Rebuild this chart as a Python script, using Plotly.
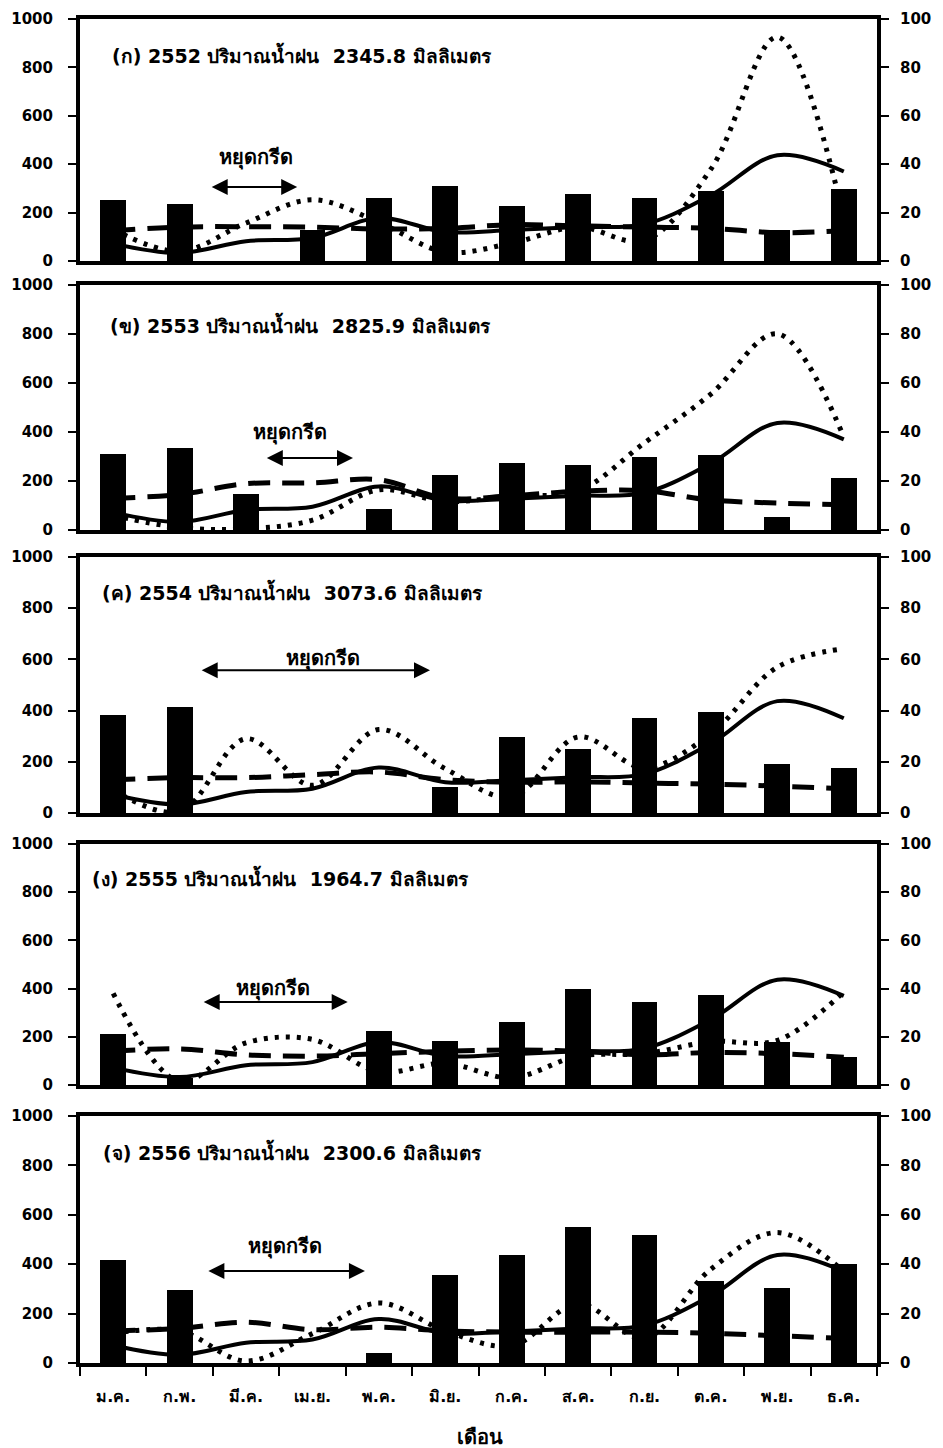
import plotly.graph_objects as go

W, H = 943, 1448

months = ["ม.ค.", "ก.พ.", "มี.ค.", "เม.ย.", "พ.ค.", "มิ.ย.",
          "ก.ค.", "ส.ค.", "ก.ย.", "ต.ค.", "พ.ย.", "ธ.ค."]

titles = [
    "(ก) 2552 ปริมาณน้ำฝน  2345.8 มิลลิเมตร",
    "(ข) 2553 ปริมาณน้ำฝน  2825.9 มิลลิเมตร",
    "(ค) 2554 ปริมาณน้ำฝน  3073.6 มิลลิเมตร",
    "(ง) 2555 ปริมาณน้ำฝน  1964.7 มิลลิเมตร",
    "(จ) 2556 ปริมาณน้ำฝน  2300.6 มิลลิเมตร",
]

# long-term monthly rainfall (left axis, solid curve, same on every panel)
rain_mean = [72, 33, 82, 95, 178, 120, 128, 140, 152, 272, 437, 370]

# monthly rainfall of each year (left axis, dotted curve)
rain_2552 = [130, 40, 157, 253, 160, 37, 74, 140, 85, 380, 925, 180]
rain_2553 = [60, 10, 5, 40, 164, 116, 140, 160, 356, 555, 801, 380]
rain_2554 = [90, 5, 290, 108, 326, 173, 62, 297, 177, 310, 570, 642]
rain_2555 = [380, 15, 175, 189, 55, 90, 30, 120, 130, 180, 185, 387]
rain_2556 = [120, 130, 8, 119, 243, 130, 70, 240, 100, 380, 528, 370]

# dashed curve (left axis)
dash_2552 = [125, 140, 142, 140, 132, 135, 150, 145, 140, 135, 117, 125]
dash_2553 = [130, 145, 189, 192, 205, 130, 140, 158, 160, 122, 110, 103]
dash_2554 = [130, 138, 138, 150, 160, 130, 120, 122, 117, 113, 105, 95]
dash_2555 = [140, 150, 125, 120, 130, 140, 145, 140, 125, 135, 130, 115]
dash_2556 = [130, 140, 165, 135, 145, 130, 125, 125, 125, 120, 110, 100]

# monthly bars (right axis, 0-100)
bar_2552 = [25.3, 23.7, 0, 12.9, 25.9, 30.8, 22.8, 27.5, 26.1, 29.0, 12.9, 29.6]
bar_2553 = [31.1, 33.3, 14.7, 0, 8.6, 22.6, 27.5, 26.4, 29.6, 30.7, 5.2, 21.4]
bar_2554 = [38.1, 41.4, 0, 0, 0, 10.2, 29.7, 25.0, 37.2, 39.5, 19.0, 17.7]
bar_2555 = [21.0, 3.0, 0, 0, 22.4, 18.3, 26.3, 39.7, 34.4, 37.2, 17.7, 11.5]
bar_2556 = [41.9, 29.7, 0, 0, 4.2, 35.5, 43.9, 55.1, 52.0, 33.4, 30.4, 39.9]

stop_label = "หยุดกรีด"

panels = [
    (rain_2552, dash_2552, bar_2552),
    (rain_2553, dash_2553, bar_2553),
    (rain_2554, dash_2554, bar_2554),
    (rain_2555, dash_2555, bar_2555),
    (rain_2556, dash_2556, bar_2556),
]

# ---- layout geometry (pixels) ----
plot_left, plot_right = 80, 877
panel_px = [(19, 261), (285, 530), (557, 813), (844, 1085), (1116, 1363)]
title_px = [(110, 54), (108, 324), (100, 591), (90, 877), (101, 1151)]
# double arrow: (start index, end index, y value), label: (x index, y value)
arrow_pos = [(1.46, 2.77, 306), (2.29, 3.61, 294), (1.31, 4.77, 558),
             (1.34, 3.53, 344), (1.41, 3.79, 372)]
label_pos = [(2.15, 426), (2.66, 400), (3.16, 605), (2.41, 402), (2.59, 470)]

FONT = "'DejaVu Sans', Tahoma, sans-serif"
tick_font = dict(family=FONT, size=15, color="black", weight="bold")
month_font = dict(family=FONT, size=16, color="black", weight="bold")


def py(px):
    return 1 - px / H


fig = go.Figure()
layout = dict(
    width=W, height=H,
    margin=dict(l=plot_left, r=W - plot_right, t=0, b=0),
    paper_bgcolor="white", plot_bgcolor="white",
    showlegend=False, bargap=0,
    font=dict(family=FONT, color="black"),
)
annotations = []

for i, (rain, dash, bars) in enumerate(panels):
    n = i + 1
    xid = "x" if n == 1 else f"x{n}"
    yl = "y" if n == 1 else f"y{2 * n - 1}"
    yr = f"y{2 * n}"
    xkey = "xaxis" if n == 1 else f"xaxis{n}"
    ylkey = "yaxis" if n == 1 else f"yaxis{2 * n - 1}"
    yrkey = f"yaxis{2 * n}"
    top, bottom = panel_px[i]
    last = i == len(panels) - 1

    fig.add_trace(go.Scatter(
        x=months, y=rain, mode="lines", xaxis=xid, yaxis=yl,
        line=dict(color="black", width=5, dash="4px,7px",
                  shape="spline", smoothing=1)))
    fig.add_trace(go.Scatter(
        x=months, y=dash, mode="lines", xaxis=xid, yaxis=yl,
        line=dict(color="black", width=5, dash="22px,12px",
                  shape="spline", smoothing=1)))
    fig.add_trace(go.Scatter(
        x=months, y=rain_mean, mode="lines", xaxis=xid, yaxis=yl,
        line=dict(color="black", width=4, shape="spline", smoothing=1)))
    fig.add_trace(go.Bar(
        x=months, y=bars, xaxis=xid, yaxis=yr, width=0.39,
        marker=dict(color="black", line=dict(width=0))))

    layout[xkey] = dict(
        domain=[0, 1], anchor=yl, type="category", range=[-0.5, 11.5],
        showline=True, linewidth=4, linecolor="black", mirror=True,
        showgrid=False, zeroline=False,
        ticks="outside" if last else "", tickson="boundaries",
        ticklen=9, tickwidth=2, tickcolor="black",
        showticklabels=last, tickfont=month_font, ticklabelstandoff=16,
        automargin=False,
    )
    layout[ylkey] = dict(
        domain=[py(bottom), py(top)], anchor=xid, range=[0, 1000],
        tickvals=[0, 200, 400, 600, 800, 1000],
        showline=True, linewidth=4, linecolor="black",
        showgrid=False, zeroline=False,
        ticks="outside", ticklen=8, tickwidth=2, tickcolor="black",
        tickfont=tick_font, ticklabelstandoff=12, automargin=False,
    )
    layout[yrkey] = dict(
        domain=[py(bottom), py(top)], anchor=xid, overlaying=yl, side="right",
        range=[0, 100], tickvals=[0, 20, 40, 60, 80, 100],
        showline=True, linewidth=4, linecolor="black",
        showgrid=False, zeroline=False,
        ticks="outside", ticklen=8, tickwidth=2, tickcolor="black",
        tickfont=tick_font, ticklabelstandoff=8, automargin=False,
    )

    tx, ty = title_px[i]
    annotations.append(dict(
        text=titles[i], xref="paper", yref="paper",
        x=(tx - plot_left) / (plot_right - plot_left), y=py(ty),
        xanchor="left", yanchor="middle", showarrow=False,
        font=dict(family=FONT, size=19, color="black", weight="bold")))

    a0, a1, ay = arrow_pos[i]
    annotations.append(dict(
        text="", xref=xid, yref=yl, axref=xid, ayref=yl,
        x=a1, y=ay, ax=a0, ay=ay, showarrow=True,
        arrowhead=2, arrowside="end+start", arrowsize=1.6,
        arrowwidth=2, arrowcolor="black", standoff=0, startstandoff=0))
    lx, ly = label_pos[i]
    annotations.append(dict(
        text=stop_label, xref=xid, yref=yl, x=lx, y=ly,
        xanchor="center", yanchor="middle", showarrow=False,
        font=dict(family=FONT, size=20, color="black", weight="bold")))

annotations.append(dict(
    text="เดือน", xref="paper", yref="paper",
    x=(480 - plot_left) / (plot_right - plot_left), y=py(1437),
    xanchor="center", yanchor="middle", showarrow=False,
    font=dict(family=FONT, size=20, color="black", weight="bold")))

layout["annotations"] = annotations
fig.update_layout(**layout)
fig.write_html("out.html")
